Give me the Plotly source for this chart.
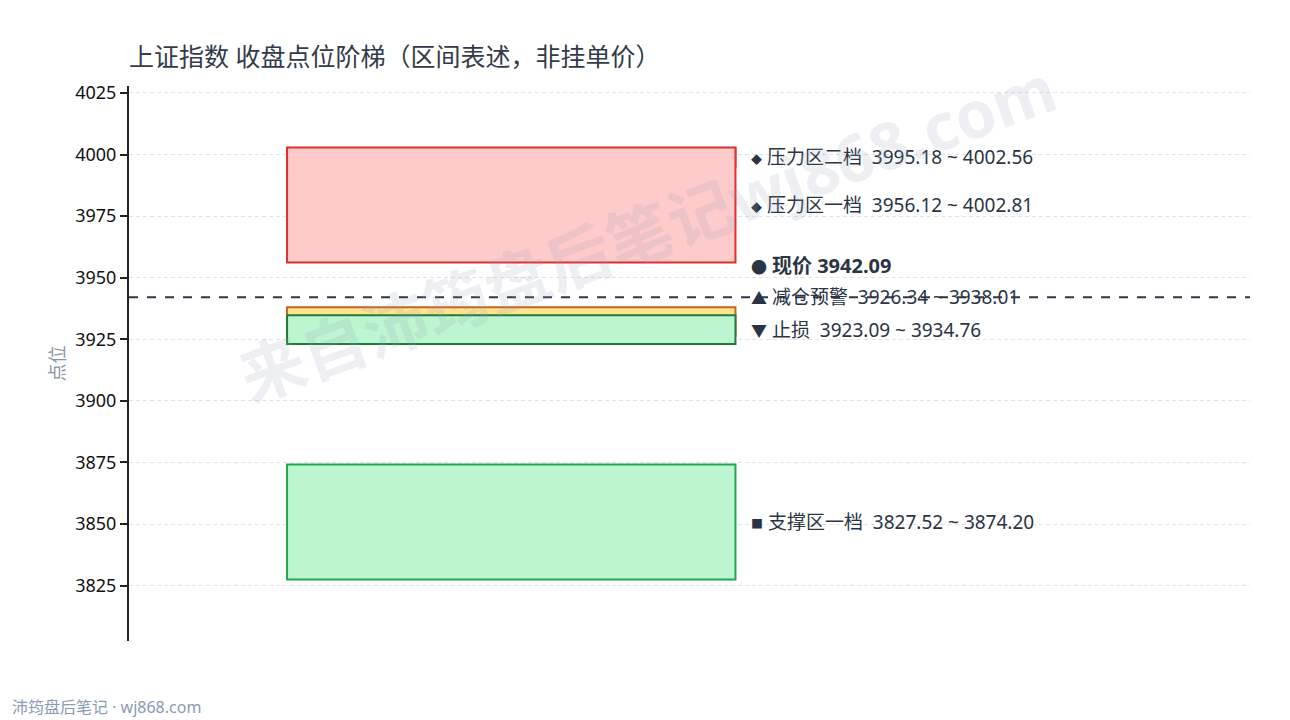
import plotly.graph_objects as go

# ---- data ----
zone_names = ["压力区二档", "压力区一档", "减仓预警", "止损", "支撑区一档"]
zone_low = [3995.18, 3956.12, 3926.34, 3923.09, 3827.52]
zone_high = [4002.56, 4002.81, 3938.01, 3934.76, 3874.20]
zone_symbols = ["◆", "◆", "▲", "▼", "■"]
zone_fill = ["#ffcaca", "#ffcaca", "#ffe38f", "#bbf6d1", "#bbf6d1"]
zone_line = ["#dc2f2f", "#dc2f2f", "#c8651c", "#1f7c3c", "#22a650"]
current_price = 3942.09
current_label = "现价"
y_ticks = [3825, 3850, 3875, 3900, 3925, 3950, 3975, 4000, 4025]

title_text = "上证指数 收盘点位阶梯（区间表述，非挂单价）"
y_title = "点位"
watermark = "来自沛筠盘后笔记wj868.com"
footer = "沛筠盘后笔记 · wj868.com"

FONT = "Noto Sans, Noto Sans CJK SC"
TXT = "#2b3444"
small_syms = {"◆": 11, "■": 12}

fig = go.Figure()
# invisible trace to establish axes
fig.add_trace(go.Scatter(x=[0, 1], y=[min(zone_low), max(zone_high)], mode="markers",
                         marker=dict(opacity=0), hoverinfo="skip", showlegend=False))

BX0, BX1 = 0.141, 0.541
for lo, hi, fc, lc in zip(zone_low, zone_high, zone_fill, zone_line):
    fig.add_shape(type="rect", xref="x", yref="y", x0=BX0, x1=BX1, y0=lo, y1=hi,
                  fillcolor=fc, line=dict(color=lc, width=2), layer="above")

fig.add_shape(type="line", xref="paper", yref="y", x0=0, x1=1, y0=current_price, y1=current_price,
              line=dict(color="#2d3748", width=2, dash="dash"), layer="above")


def sym_html(s):
    if s in small_syms:
        return f"<span style='font-size:{small_syms[s]}px'>{s}</span>"
    return f"<span style='font-size:16px'>{s}</span>"


# label layout with collision avoidance
items = []
for n, lo, hi, s in zip(zone_names, zone_low, zone_high, zone_symbols):
    items.append(((lo + hi) / 2, f"{sym_html(s)} {n}\u00a0\u00a0{lo:.2f} ~ {hi:.2f}"))
items.append((current_price,
              f"{sym_html('●')} <span style='font-size:20px'><b>{current_label} {current_price:.2f}</b></span>"))
items.sort(key=lambda t: t[0])
gap = 13.1
prev = None
for c, txt in items:
    y = c if prev is None else max(c, prev + gap)
    prev = y
    fig.add_annotation(xref="x", yref="y", x=0.553, y=y, text=txt,
                       showarrow=False, xanchor="left", yanchor="middle",
                       font=dict(family=FONT, size=19, color=TXT))

ymin = min(zone_low) - 25
ymax = max(zone_high) + 25

fig.add_annotation(xref="paper", yref="paper", x=0.462, y=0.737, text=f"<b>{watermark}</b>",
                   textangle=-20, showarrow=False, xanchor="center", yanchor="middle",
                   font=dict(family=FONT, size=65, color="rgba(150,160,185,0.17)"))

fig.add_annotation(xref="paper", yref="paper", x=-0.1062, y=-0.119, text=footer,
                   showarrow=False, xanchor="left", yanchor="middle",
                   font=dict(family=FONT, size=16, color="#8c9ab3"))

fig.update_layout(
    width=1290, height=720,
    paper_bgcolor="white", plot_bgcolor="white",
    margin=dict(l=121, r=48, t=78, b=87),
    title=dict(text=title_text, x=121 / 1290, xanchor="left", y=1 - 49 / 720, yanchor="middle",
               font=dict(family=FONT, size=25, color="#333b48")),
    font=dict(family=FONT, color="#111"),
    showlegend=False,
    xaxis=dict(range=[0, 1], visible=False),
    yaxis=dict(range=[ymin, ymax], tickvals=y_ticks, ticks="outside", ticklen=7, tickwidth=2,
               tickcolor="#222", showline=True, linecolor="#222", linewidth=2,
               showgrid=True, gridcolor="#e3e3e3", griddash="4px,3px", gridwidth=1,
               zeroline=False, tickfont=dict(family=FONT, size=18, color="#111"),
               title=dict(text=y_title, standoff=6,
                          font=dict(family=FONT, size=18, color="#8a93a3"))),
)

fig.write_html("out.html")
